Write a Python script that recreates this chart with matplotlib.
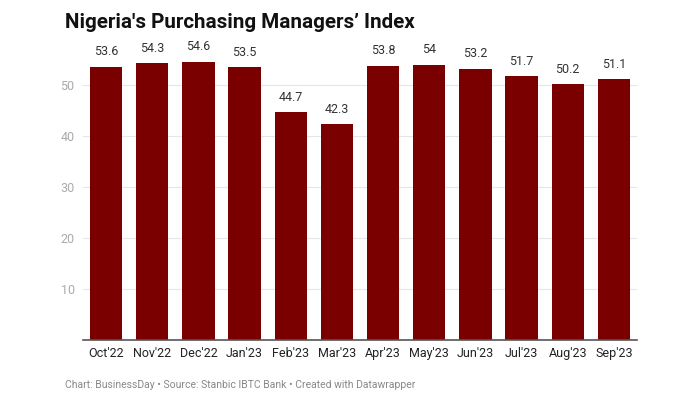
import matplotlib
matplotlib.use("Agg")
import matplotlib.pyplot as plt

categories = ["Oct'22", "Nov'22", "Dec'22", "Jan'23", "Feb'23", "Mar'23",
              "Apr'23", "May'23", "Jun'23", "Jul'23", "Aug'23", "Sep'23"]
values = [53.6, 54.3, 54.6, 53.5, 44.7, 42.3, 53.8, 54, 53.2, 51.7, 50.2, 51.1]
labels = ["53.6", "54.3", "54.6", "53.5", "44.7", "42.3", "53.8", "54", "53.2", "51.7", "50.2", "51.1"]
yticks = [10, 20, 30, 40, 50]

plt.rcParams['font.family'] = ['Roboto', 'DejaVu Sans']

fig = plt.figure(figsize=(7, 4), dpi=100)
ax = fig.add_axes([83/700, 0.15, (637-83)/700, 0.765])

x = range(len(categories))
ax.bar(x, values, width=0.70, color="#7a0000", zorder=3)
for i, (v, l) in enumerate(zip(values, labels)):
    ax.annotate(l, (i, v), xytext=(0, 6), textcoords="offset points",
                ha="center", va="bottom", fontsize=9, color="#333333")

ax.set_xlim(-0.5, len(categories) - 0.5)
ax.set_ylim(0, 60)
ax.set_yticks(yticks)
ax.set_yticklabels([str(t) for t in yticks], color="#aaaaaa", fontsize=9)
ax.set_xticks(list(x))
ax.set_xticklabels(categories, fontsize=9, color="#222222")
ax.tick_params(axis="both", length=0)
ax.tick_params(axis="y", pad=6)
ax.tick_params(axis="x", pad=5)
ax.grid(axis="y", color="#e6e6e6", linewidth=0.8, zorder=0)
for s in ["top", "right", "left"]:
    ax.spines[s].set_visible(False)
ax.spines["bottom"].set_color("#555555")
ax.spines["bottom"].set_linewidth(1.2)
ax.spines["bottom"].set_zorder(4)

fig.text(65/700, 1 - 28/400, "Nigeria's Purchasing Managers\u2019 Index",
         fontsize=14.9, fontweight="bold", color="#111111", ha="left", va="baseline")
fig.text(65/700, 1 - 388/400,
         "Chart: BusinessDay \u2022 Source: Stanbic IBTC Bank \u2022 Created with Datawrapper",
         fontsize=7.5, color="#888888", ha="left", va="baseline")

fig.savefig("out.png", dpi=100)
